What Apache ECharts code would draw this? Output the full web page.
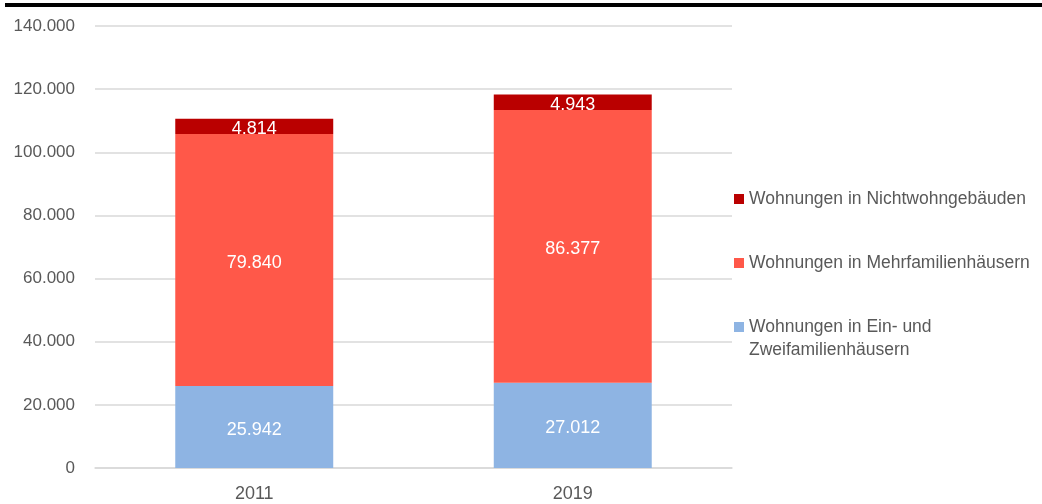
<!DOCTYPE html>
<html>
<head>
<meta charset="utf-8">
<script src="https://cdn.jsdelivr.net/npm/echarts@6/dist/echarts.min.js"></script>
<style>
  html, body { margin: 0; padding: 0; background: #fff; }
  #chart { width: 1042px; height: 504px; }
</style>
</head>
<body>
<div id="chart"></div>
<script>
// Wohnungen nach Gebäudeart
const years = ['2011', '2019']
const einZwei = [25942, 27012]
const mehrfam = [79840, 86377]
const nichtwohn = [4814, 4943]
const seriesNames = [
  'Wohnungen in Ein- und Zweifamilienhäusern',
  'Wohnungen in Mehrfamilienhäusern',
  'Wohnungen in Nichtwohngebäuden'
]

const fmt = v => v.toLocaleString('de-DE')
const font = "'Liberation Sans', Arial, sans-serif"

const myChart = echarts.init(document.getElementById('chart'))

const label = {
  show: true,
  color: '#fff',
  fontSize: 18,
  fontFamily: font,
  offset: [0, 3],
  formatter: p => fmt(p.value)
}

const option = {
  animation: false,
  grid: { left: 95, right: 310, top: 26, bottom: 36, outerBoundsMode: 'none' },
  legend: {
    orient: 'vertical',
    left: 729,
    top: 184,
    itemWidth: 10,
    itemHeight: 10,
    itemGap: 44,
    icon: 'rect',
    data: [seriesNames[2], seriesNames[1], seriesNames[0]],
    textStyle: { color: '#595959', fontSize: 17.5, fontFamily: font, lineHeight: 20 },
    // zweite Zeile vom dritten Eintrag kommt als graphic darunter
    formatter: name => name === seriesNames[0] ? 'Wohnungen in Ein- und' : name
  },
  graphic: [
    { type: 'rect', shape: { x: 5, y: 3, width: 1037, height: 4 }, style: { fill: '#000' } },
    {
      type: 'text', left: 749, top: 341,
      style: { text: 'Zweifamilienhäusern', fill: '#595959', fontSize: 17.5, fontFamily: font }
    }
  ],
  xAxis: {
    type: 'category',
    data: years,
    axisLine: { lineStyle: { color: '#D9D9D9', width: 1.5 } },
    axisTick: { show: false },
    axisLabel: { color: '#595959', fontSize: 18, fontFamily: font, margin: 17 }
  },
  yAxis: {
    type: 'value',
    min: 0,
    max: 140000,
    interval: 20000,
    axisLine: { show: false },
    axisTick: { show: false },
    splitLine: { lineStyle: { color: '#D9D9D9', width: 1.5 } },
    axisLabel: { color: '#595959', fontSize: 17, fontFamily: font, margin: 20, formatter: v => fmt(v) }
  },
  series: [
    { name: seriesNames[0], type: 'bar', stack: 'w', barWidth: '49.6%', data: einZwei, itemStyle: { color: '#8EB4E3' }, label },
    { name: seriesNames[1], type: 'bar', stack: 'w', data: mehrfam, itemStyle: { color: '#FF5849' }, label },
    { name: seriesNames[2], type: 'bar', stack: 'w', data: nichtwohn, itemStyle: { color: '#BA0000' }, label }
  ]
}

myChart.setOption(option)
</script>
</body>
</html>
